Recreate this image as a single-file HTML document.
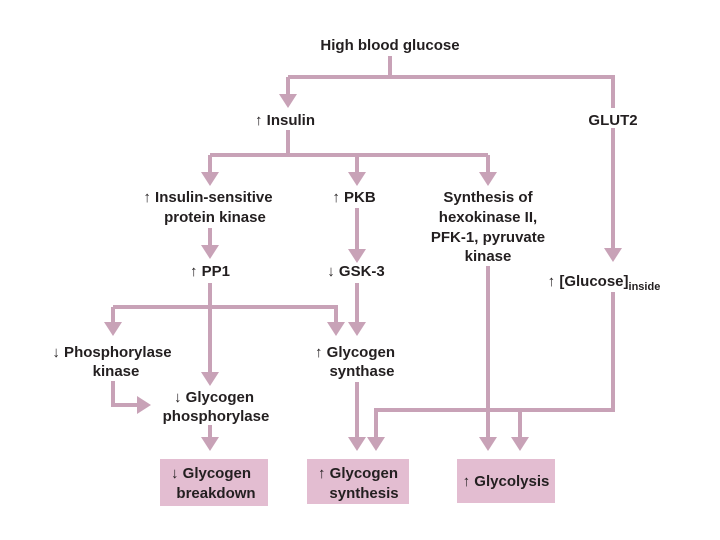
<!DOCTYPE html>
<html><head><style>
html,body{margin:0;padding:0;background:#fff;width:720px;height:540px;overflow:hidden}
svg text{font-family:"Liberation Sans",sans-serif;font-weight:bold;font-size:15px;fill:#231f20}
</style></head><body>
<svg width="720" height="540" viewBox="0 0 720 540" xmlns="http://www.w3.org/2000/svg">
<defs>
<marker id="a" markerWidth="6" markerHeight="6" refX="3" refY="3" orient="auto" markerUnits="userSpaceOnUse" viewBox="0 0 6 6"><path d="M0,0 L6,3 L0,6 Z" fill="#c8a2b7"/></marker>
</defs>
<g fill="#e3bdd1">
<rect x="160" y="459" width="108" height="47"/>
<rect x="307" y="459" width="102" height="45"/>
<rect x="457" y="459" width="98" height="44"/>
</g>
<g stroke="#c8a2b7" stroke-width="4" fill="none">
<path d="M390 56 V77"/>
<path d="M288 77 H613 V108"/>
<path d="M288 77 V95"/>
<path d="M288 130 V155"/>
<path d="M210 155 H488"/>
<path d="M210 155 V173"/><path d="M357 155 V173"/><path d="M488 155 V173"/>
<path d="M210 228 V246"/>
<path d="M357 208 V250"/>
<path d="M613 128 V250"/>
<path d="M210 283 V373"/>
<path d="M113 307 H336 V323"/>
<path d="M113 307 V323"/>
<path d="M357 283 V323"/>
<path d="M113 381 V405 H138"/>
<path d="M210 425 V438"/>
<path d="M357 382 V438"/>
<path d="M488 266 V438"/>
<path d="M613 292 V410 H376 V438"/>
<path d="M520 410 V438"/>
</g>
<g fill="#c8a2b7">
<path d="M279 94 L297 94 L288 108 Z"/>
<path d="M604 248 L622 248 L613 262 Z"/>
<path d="M201 172 L219 172 L210 186 Z"/>
<path d="M348 172 L366 172 L357 186 Z"/>
<path d="M479 172 L497 172 L488 186 Z"/>
<path d="M201 245 L219 245 L210 259 Z"/>
<path d="M348 249 L366 249 L357 263 Z"/>
<path d="M104 322 L122 322 L113 336 Z"/>
<path d="M327 322 L345 322 L336 336 Z"/>
<path d="M348 322 L366 322 L357 336 Z"/>
<path d="M201 372 L219 372 L210 386 Z"/>
<path d="M137 396 L137 414 L151 405 Z"/>
<path d="M201 437 L219 437 L210 451 Z"/>
<path d="M348 437 L366 437 L357 451 Z"/>
<path d="M367 437 L385 437 L376 451 Z"/>
<path d="M479 437 L497 437 L488 451 Z"/>
<path d="M511 437 L529 437 L520 451 Z"/>
</g>
<g text-anchor="middle">
<text x="390" y="50">High blood glucose</text>
<text x="285" y="125">↑ Insulin</text>
<text x="613" y="125">GLUT2</text>
<text x="208" y="202">↑ Insulin-sensitive</text>
<text x="215" y="222">protein kinase</text>
<text x="354" y="202">↑ PKB</text>
<text x="488" y="202">Synthesis of</text>
<text x="488" y="222">hexokinase II,</text>
<text x="488" y="242">PFK-1, pyruvate</text>
<text x="488" y="261">kinase</text>
<text x="210" y="276">↑ PP1</text>
<text x="356" y="276">↓ GSK-3</text>
<text x="604" y="286">↑ [Glucose]<tspan font-size="11" dy="4">inside</tspan></text>
<text x="112" y="357">↓ Phosphorylase</text>
<text x="116" y="376">kinase</text>
<text x="355" y="357">↑ Glycogen</text>
<text x="362" y="376">synthase</text>
<text x="214" y="402">↓ Glycogen</text>
<text x="216" y="421">phosphorylase</text>
<text x="211" y="478">↓ Glycogen</text>
<text x="216" y="498">breakdown</text>
<text x="358" y="478">↑ Glycogen</text>
<text x="364" y="498">synthesis</text>
<text x="506" y="486">↑ Glycolysis</text>
</g>
</svg>
</body></html>
